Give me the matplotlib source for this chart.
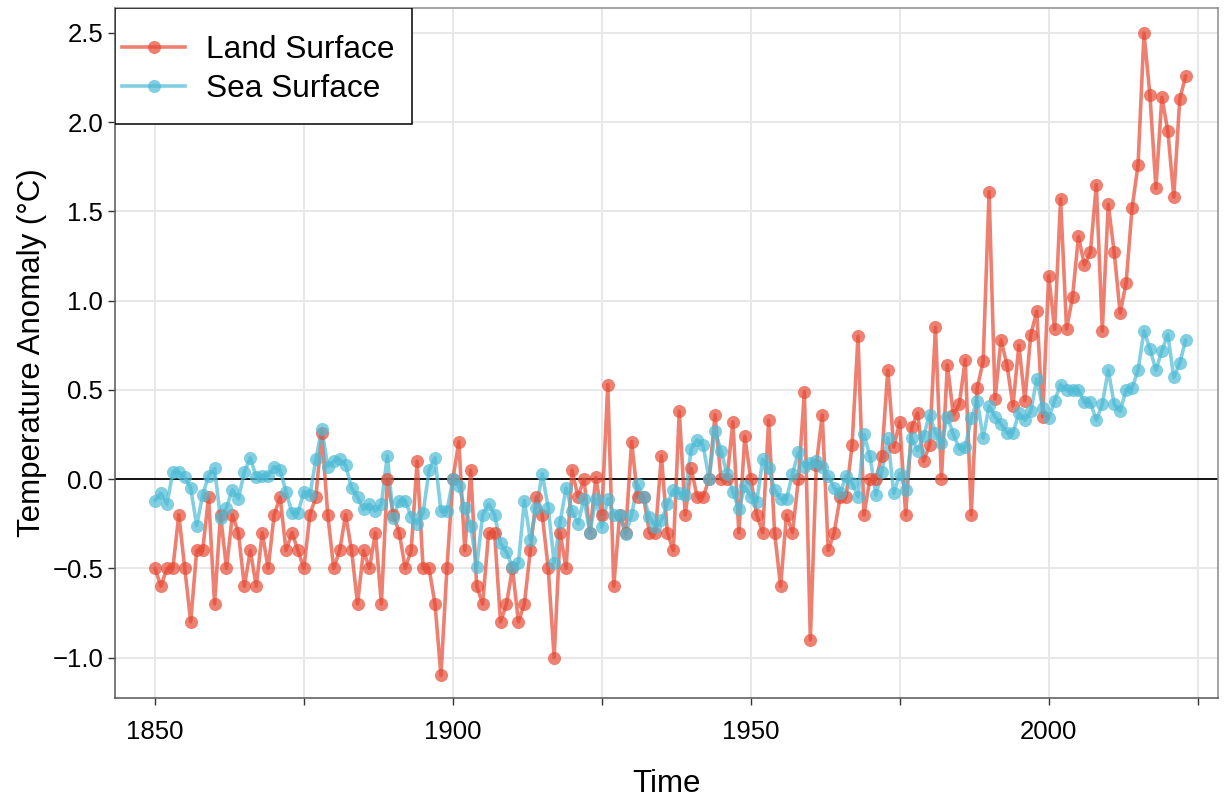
import matplotlib
matplotlib.use("Agg")
import matplotlib.pyplot as plt
from matplotlib.lines import Line2D
from matplotlib.patches import Rectangle

years = list(range(1850, 2024))

land = [
    -0.5, -0.6, -0.5, -0.5, -0.2, -0.5, -0.8, -0.4, -0.4, -0.1,   # 1850-1859
    -0.7, -0.2, -0.5, -0.2, -0.3, -0.6, -0.4, -0.6, -0.3, -0.5,   # 1860-1869
    -0.2, -0.1, -0.4, -0.3, -0.4, -0.5, -0.2, -0.1, 0.26, -0.2,   # 1870-1879
    -0.5, -0.4, -0.2, -0.4, -0.7, -0.4, -0.5, -0.3, -0.7, 0.0,    # 1880-1889
    -0.2, -0.3, -0.5, -0.4, 0.1, -0.5, -0.5, -0.7, -1.1, -0.5,    # 1890-1899
    0.0, 0.21, -0.4, 0.05, -0.6, -0.7, -0.3, -0.3, -0.8, -0.7,    # 1900-1909
    -0.5, -0.8, -0.7, -0.4, -0.1, -0.2, -0.5, -1.0, -0.3, -0.5,   # 1910-1919
    0.05, -0.1, 0.0, -0.3, 0.01, -0.2, 0.53, -0.6, -0.2, -0.3,    # 1920-1929
    0.21, -0.1, -0.1, -0.3, -0.3, 0.13, -0.3, -0.4, 0.38, -0.2,   # 1930-1939
    0.06, -0.1, -0.1, 0.0, 0.36, 0.0, 0.0, 0.32, -0.3, 0.24,      # 1940-1949
    0.0, -0.2, -0.3, 0.33, -0.3, -0.6, -0.2, -0.3, 0.0, 0.49,     # 1950-1959
    -0.9, 0.08, 0.36, -0.4, -0.3, -0.1, -0.1, 0.19, 0.8, -0.2,    # 1960-1969
    0.0, 0.0, 0.13, 0.61, 0.18, 0.32, -0.2, 0.29, 0.37, 0.10,     # 1970-1979
    0.19, 0.85, 0.0, 0.64, 0.36, 0.42, 0.67, -0.2, 0.51, 0.66,    # 1980-1989
    1.61, 0.45, 0.78, 0.64, 0.41, 0.75, 0.44, 0.81, 0.94, 0.35,   # 1990-1999
    1.14, 0.84, 1.57, 0.84, 1.02, 1.36, 1.20, 1.27, 1.65, 0.83,   # 2000-2009
    1.54, 1.27, 0.93, 1.10, 1.52, 1.76, 2.50, 2.15, 1.63, 2.14,   # 2010-2019
    1.95, 1.58, 2.13, 2.26,                                       # 2020-2023
]

sea = [
    -0.12, -0.08, -0.14, 0.04, 0.04, 0.01, -0.05, -0.26, -0.09, 0.02,   # 1850-1859
    0.06, -0.22, -0.16, -0.06, -0.11, 0.04, 0.12, 0.01, 0.02, 0.02,     # 1860-1869
    0.07, 0.05, -0.07, -0.19, -0.19, -0.07, -0.09, 0.11, 0.28, 0.07,    # 1870-1879
    0.10, 0.11, 0.08, -0.05, -0.10, -0.17, -0.14, -0.18, -0.14, 0.13,   # 1880-1889
    -0.22, -0.12, -0.12, -0.21, -0.25, -0.19, 0.05, 0.12, -0.18, -0.18, # 1890-1899
    0.0, -0.04, -0.16, -0.26, -0.49, -0.20, -0.14, -0.20, -0.36, -0.41, # 1900-1909
    -0.49, -0.47, -0.12, -0.34, -0.16, 0.03, -0.16, -0.47, -0.24, -0.05,# 1910-1919
    -0.18, -0.25, -0.11, -0.30, -0.11, -0.27, -0.11, -0.20, -0.20, -0.31,# 1920-1929
    -0.20, -0.03, -0.10, -0.21, -0.27, -0.23, -0.14, -0.06, -0.08, -0.09,# 1930-1939
    0.17, 0.22, 0.19, 0.0, 0.27, 0.16, 0.03, -0.07, -0.17, -0.04,       # 1940-1949
    -0.10, -0.13, 0.11, 0.06, -0.06, -0.11, -0.11, 0.03, 0.15, 0.07,    # 1950-1959
    0.09, 0.10, 0.07, 0.02, -0.05, -0.08, 0.02, -0.02, -0.10, 0.25,     # 1960-1969
    0.13, -0.09, 0.04, 0.23, -0.08, 0.03, -0.06, 0.23, 0.16, 0.24,      # 1970-1979
    0.36, 0.26, 0.20, 0.35, 0.25, 0.17, 0.18, 0.34, 0.44, 0.23,         # 1980-1989
    0.41, 0.35, 0.31, 0.26, 0.26, 0.37, 0.33, 0.38, 0.56, 0.40,         # 1990-1999
    0.34, 0.44, 0.53, 0.50, 0.50, 0.50, 0.43, 0.43, 0.33, 0.42,         # 2000-2009
    0.61, 0.42, 0.38, 0.50, 0.51, 0.61, 0.83, 0.73, 0.61, 0.72,         # 2010-2019
    0.81, 0.57, 0.65, 0.78,                                             # 2020-2023
]

series_names = ["Land Surface", "Sea Surface"]
series_colors = ["#E64B35", "#4DBBD5"]
x_major = [1850, 1900, 1950, 2000]
x_minor = [1875, 1925, 1975, 2025]
y_ticks = [-1.0, -0.5, 0.0, 0.5, 1.0, 1.5, 2.0, 2.5]
y_ticklabels = ["\u22121.0", "\u22120.5", "0.0", "0.5", "1.0", "1.5", "2.0", "2.5"]

plt.rcParams['font.family'] = ['Liberation Sans', 'DejaVu Sans']

fig = plt.figure(figsize=(12.24, 7.98), dpi=100)
ax = fig.add_axes([0.094, 0.125, 0.901, 0.865])

ALPHA = 0.7
LW = 2.6
MS = 9.4

handles = []
for vals, name, col in zip([land, sea], series_names, series_colors):
    ax.plot(years, vals, color=col, alpha=ALPHA, lw=LW, zorder=3,
            solid_capstyle='round')
    ax.plot(years, vals, linestyle='none', marker='o', markersize=MS,
            markerfacecolor=col, markeredgewidth=0, alpha=ALPHA, zorder=4)
    handles.append(Line2D([0], [0], color=col, alpha=ALPHA, lw=LW, marker='o',
                          markersize=MS, markeredgewidth=0, label=name))

ax.axhline(0, color='black', lw=1.3, zorder=2)

ax.set_xlim(1843.3, 2028.4)
ax.set_ylim(-1.228, 2.64)
ax.set_xticks(x_major)
ax.set_xticks(x_minor, minor=True)
ax.set_yticks(y_ticks)
ax.set_yticklabels(y_ticklabels)
ax.grid(True, which='major', color='#E8E8E8', lw=1.4, zorder=0)
ax.grid(True, which='minor', axis='x', color='#E8E8E8', lw=1.4, zorder=0)
ax.set_axisbelow(True)

for s in ax.spines.values():
    s.set_color('#8C8C8C')
    s.set_linewidth(1.1)
ax.spines['left'].set_color('#555555')
ax.spines['bottom'].set_color('#555555')

ax.tick_params(axis='both', which='major', labelsize=18.5, colors='#333333',
               labelcolor='black', length=5, width=1)
ax.tick_params(axis='x', which='major', pad=10.5)
ax.tick_params(axis='x', which='minor', length=5, width=1, colors='#333333')
ax.tick_params(axis='y', which='minor', length=0)

ax.set_xlabel("Time", fontsize=22.5)
ax.set_ylabel("Temperature Anomaly (\u00b0C)", fontsize=22.5)
ax.xaxis.set_label_coords(0.5, -0.102)
ax.yaxis.set_label_coords(-0.062, 0.5)

# legend box (frame drawn separately to match the reference padding)
box = Rectangle((0.0, 0.832), 0.269, 0.168, transform=ax.transAxes,
                facecolor='white', edgecolor='black', lw=1.1, zorder=5)
ax.add_patch(box)
leg = ax.legend(handles=handles, loc='upper left',
                bbox_to_anchor=(0.0063, 0.961),
                fontsize=22.8, frameon=False, borderaxespad=0.0, borderpad=0.0,
                handlelength=2.0, handletextpad=0.65, labelspacing=0.3,
                numpoints=1)
leg.set_zorder(6)

fig.savefig("out.png", dpi=100, facecolor='white')
